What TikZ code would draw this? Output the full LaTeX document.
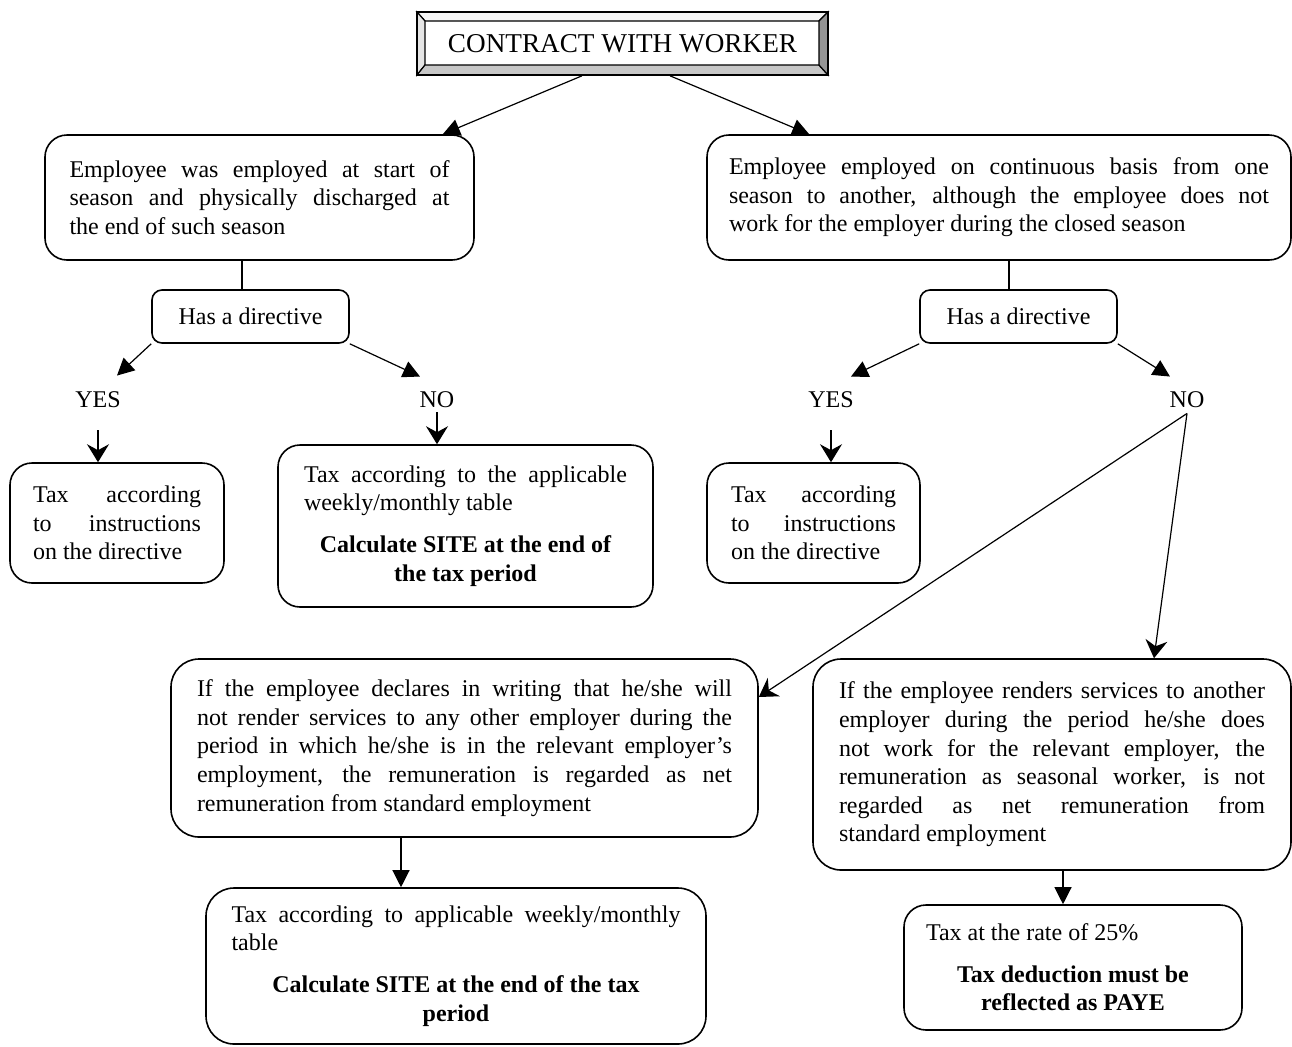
\documentclass[tikz,border=0pt]{standalone}
\usepackage{fontspec}
\setmainfont{Liberation Serif}
\usetikzlibrary{arrows.meta}
% one justified line of a paragraph, broken by hand
\newcommand{\jline}[1]{#1\linebreak}

\begin{document}
\begin{tikzpicture}[x=0.5pt,y=-0.5pt,
  box/.style={draw, line width=0.8pt, rounded corners=11pt, inner sep=0pt, align=justify,
    font=\fontsize{12}{14.3}\selectfont},
  bigbox/.style={box, rounded corners=14pt},
  smallbox/.style={box, rounded corners=5pt, align=center},
  lbl/.style={inner sep=0pt, font=\fontsize{12}{14.3}\selectfont},
  conn/.style={line width=0.6pt},
  tri/.style={conn, -{Triangle[length=8.5pt,width=8.5pt]}},
  stl/.style={conn, -{Stealth[length=9pt,width=11pt,inset=3pt]}},
]
\useasboundingbox (0,0) rectangle (1292,1046);

% bevelled frame of the heading
\filldraw[fill=black!4, line width=0.6pt] (417,12) -- (828,12) -- (819,21) -- (425,21) -- cycle;
\filldraw[fill=black!10, line width=0.6pt] (417,12) -- (425,21) -- (425,65) -- (417,75) -- cycle;
\filldraw[fill=black!22, line width=0.6pt] (417,75) -- (425,65) -- (819,65) -- (828,75) -- cycle;
\filldraw[fill=black!42, line width=0.6pt] (828,12) -- (828,75) -- (819,65) -- (819,21) -- cycle;
\node[draw, line width=0.8pt, minimum width=205.5pt, minimum height=31.5pt, inner sep=0pt,
  font=\fontsize{13.6}{16}\selectfont] (title) at (622.5,43.5) {CONTRACT WITH WORKER};

% first level
\node[box, minimum width=214.5pt, minimum height=62.5pt, text width=190pt] (box1) at (259.5,197.5)
  {\jline{Employee was employed at start of}\jline{season and physically discharged at}the end of such season};
\node[box, minimum width=292pt, minimum height=62.5pt, text width=270pt] (box2) at (999,197.5)
  {\jline{Employee employed on continuous basis from one}\jline{season to another, although the employee does not}work for the employer during the closed season};

% directive questions
\node[smallbox, minimum width=98.5pt, minimum height=26.5pt] (dir1) at (250.5,316.5) {Has a directive};
\node[smallbox, minimum width=98.5pt, minimum height=26.5pt] (dir2) at (1018.5,316.5) {Has a directive};

% answers
\node[lbl] (yes1) at (98,400) {YES};
\node[lbl] (no1) at (437,400) {NO};
\node[lbl] (yes2) at (831,400) {YES};
\node[lbl] (no2) at (1187,400) {NO};

% outcomes
\node[box, minimum width=107pt, minimum height=60pt, text width=84pt] (ty1) at (117,523)
  {\jline{Tax according}\jline{to instructions}on the directive};
\node[box, minimum width=187.5pt, minimum height=81pt, text width=161.5pt] (tn1) at (465.5,526)
  {\jline{Tax according to the applicable}weekly/monthly table\par\vspace{6.5pt}%
   {\centering\bfseries Calculate SITE at the end of\\the tax period\par}};
\node[box, minimum width=106.5pt, minimum height=60pt, text width=82.5pt] (ty2) at (813.5,523)
  {\jline{Tax according}\jline{to instructions}on the directive};

\node[bigbox, minimum width=293.5pt, minimum height=89pt, text width=267.5pt] (dl) at (464.5,748)
  {\jline{If the employee declares in writing that he/she will}\jline{not render services to any other employer during the}\jline{period in which he/she is in the relevant employer’s}\jline{employment, the remuneration is regarded as net}remuneration from standard employment};
\node[bigbox, minimum width=239pt, minimum height=105.5pt, text width=213pt] (rs) at (1052,764.5)
  {\jline{If the employee renders services to another}\jline{employer during the period he/she does}\jline{not work for the relevant employer, the}\jline{remuneration as seasonal worker, is not}\jline{regarded as net remuneration from}standard employment};

\node[bigbox, minimum width=250pt, minimum height=78pt, text width=224.5pt] (tl) at (456,966)
  {\jline{Tax according to applicable weekly/monthly}table\par\vspace{6.5pt}%
   {\centering\bfseries Calculate SITE at the end of the tax\\period\par}};
\node[box, minimum width=169pt, minimum height=62.5pt, text width=147pt] (tr) at (1073,967.5)
  {Tax at the rate of 25\%\par\vspace{6.5pt}%
   {\centering\bfseries Tax deduction must be\\reflected as PAYE\par}};

% connectors
\draw[tri] ([xshift=-20.25pt]title.south) -- ([xshift=-16pt]box1.north east);
\draw[tri] ([xshift=23.75pt]title.south) -- ([xshift=51.5pt]box2.north west);

\draw[conn] ([xshift=-8.75pt]box1.south) -- ([xshift=-4.25pt]dir1.north);
\draw[conn] ([xshift=5pt]box2.south) -- ([xshift=-4.75pt]dir2.north);

\draw[tri] (dir1.south west) -- ([xshift=9.5pt,yshift=8pt]yes1.north);
\draw[tri] (dir1.south east) -- ([xshift=-8.5pt,yshift=7.5pt]no1.north);
\draw[tri] (dir2.south west) -- ([xshift=10pt,yshift=7.5pt]yes2.north);
\draw[tri] (dir2.south east) -- ([xshift=-8.5pt,yshift=7.5pt]no2.north);

\draw[stl] ([yshift=-11pt]yes1.south) -- (yes1.south |- ty1.north);
\draw[stl] ([yshift=-2pt]no1.south) -- (no1.south |- tn1.north);
\draw[stl] ([yshift=-11pt]yes2.south) -- (yes2.south |- ty2.north);

\draw[stl] ([yshift=-2.5pt]no2.south) -- ([yshift=25.5pt]dl.east);
\draw[stl] ([yshift=-2.5pt]no2.south) -- ([xshift=51pt]rs.north);

\draw[tri] ([xshift=-31.75pt]dl.south) -- ([xshift=-27.5pt]tl.north);
\draw[tri] ([xshift=5.5pt]rs.south) -- ([xshift=-5pt]tr.north);
\end{tikzpicture}
\end{document}
